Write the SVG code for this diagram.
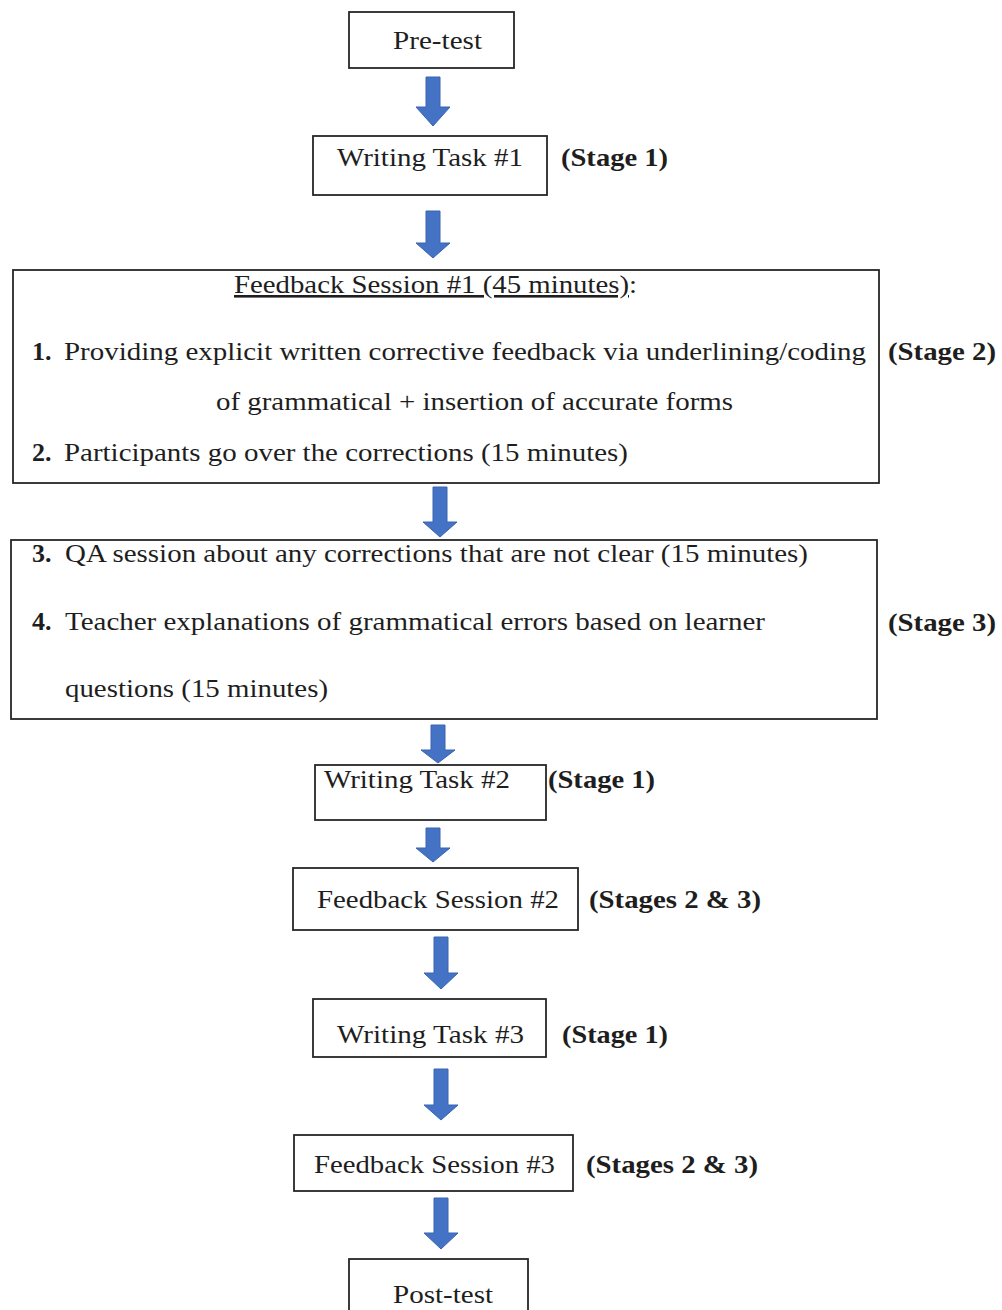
<svg xmlns="http://www.w3.org/2000/svg" width="1002" height="1310" viewBox="0 0 1002 1310">
<defs>
<style>
.box{fill:#fff;stroke:#262626;stroke-width:1.8}
.t{font-family:"Liberation Serif","Times New Roman",serif;font-size:26px;fill:#1e1e1e}
.b{font-weight:bold}
.arr{fill:#4472C4;stroke:#3a64b0;stroke-width:1}
.u{text-decoration:underline}
</style>
</defs>
<rect width="1002" height="1310" fill="#fff"/>
<g id="connectors">
<path class="arr" d="M426,77 H440 V107 H450 L433,126 L416,107 H426 Z"/>
<path class="arr" d="M426,211 H440 V243 H450 L433,258 L416,243 H426 Z"/>
<path class="arr" d="M433,487 H447 V522 H457 L440,537 L423,522 H433 Z"/>
<path class="arr" d="M431,725 H445 V750 H455 L438,763 L421,750 H431 Z"/>
<path class="arr" d="M426,828 H440 V848 H450 L433,862 L416,848 H426 Z"/>
<path class="arr" d="M434,937 H448 V973 H458 L441,989 L424,973 H434 Z"/>
<path class="arr" d="M434,1069 H448 V1105 H458 L441,1120 L424,1105 H434 Z"/>
<path class="arr" d="M434,1198 H448 V1233 H458 L441,1249 L424,1233 H434 Z"/>
</g>
<g id="pretest">
<rect class="box" x="349" y="12" width="165" height="56"/>
<text class="t" x="393" y="49" textLength="89" lengthAdjust="spacingAndGlyphs">Pre-test</text>
</g>
<g id="writing1">
<rect class="box" x="313" y="136" width="234" height="59"/>
<text class="t" x="337" y="166" textLength="186" lengthAdjust="spacingAndGlyphs">Writing Task #1</text>
<text class="t b" x="561" y="166" textLength="107" lengthAdjust="spacingAndGlyphs">(Stage 1)</text>
</g>
<g id="feedback1">
<rect class="box" x="13" y="270" width="866" height="213"/>
<text class="t" x="234" y="293" textLength="403" lengthAdjust="spacingAndGlyphs"><tspan class="u">Feedback Session #1 (45 minutes)</tspan>:</text>
<text class="t b" x="32" y="360">1.</text>
<text class="t" x="64" y="360" textLength="802" lengthAdjust="spacingAndGlyphs">Providing explicit written corrective feedback via underlining/coding</text>
<text class="t" x="216" y="410" textLength="517" lengthAdjust="spacingAndGlyphs">of grammatical + insertion of accurate forms</text>
<text class="t b" x="32" y="461">2.</text>
<text class="t" x="64" y="461" textLength="564" lengthAdjust="spacingAndGlyphs">Participants go over the corrections (15 minutes)</text>
<text class="t b" x="888" y="360" textLength="108" lengthAdjust="spacingAndGlyphs">(Stage 2)</text>
</g>
<g id="feedback1b">
<rect class="box" x="11" y="540" width="866" height="179"/>
<text class="t b" x="32" y="562">3.</text>
<text class="t" x="65" y="562" textLength="743" lengthAdjust="spacingAndGlyphs">QA session about any corrections that are not clear (15 minutes)</text>
<text class="t b" x="32" y="630">4.</text>
<text class="t" x="65" y="630" textLength="700" lengthAdjust="spacingAndGlyphs">Teacher explanations of grammatical errors based on learner</text>
<text class="t" x="65" y="697" textLength="263" lengthAdjust="spacingAndGlyphs">questions (15 minutes)</text>
<text class="t b" x="888" y="631" textLength="108" lengthAdjust="spacingAndGlyphs">(Stage 3)</text>
</g>
<g id="writing2">
<rect class="box" x="315" y="765" width="231" height="55"/>
<text class="t" x="324" y="788" textLength="186" lengthAdjust="spacingAndGlyphs">Writing Task #2</text>
<text class="t b" x="548" y="788" textLength="107" lengthAdjust="spacingAndGlyphs">(Stage 1)</text>
</g>
<g id="feedback2">
<rect class="box" x="293" y="868" width="285" height="62"/>
<text class="t" x="317" y="908" textLength="242" lengthAdjust="spacingAndGlyphs">Feedback Session #2</text>
<text class="t b" x="589" y="908" textLength="172" lengthAdjust="spacingAndGlyphs">(Stages 2 &amp; 3)</text>
</g>
<g id="writing3">
<rect class="box" x="313" y="999" width="233" height="58"/>
<text class="t" x="337" y="1043" textLength="187" lengthAdjust="spacingAndGlyphs">Writing Task #3</text>
<text class="t b" x="562" y="1043" textLength="106" lengthAdjust="spacingAndGlyphs">(Stage 1)</text>
</g>
<g id="feedback3">
<rect class="box" x="294" y="1135" width="279" height="56"/>
<text class="t" x="314" y="1173" textLength="241" lengthAdjust="spacingAndGlyphs">Feedback Session #3</text>
<text class="t b" x="586" y="1173" textLength="172" lengthAdjust="spacingAndGlyphs">(Stages 2 &amp; 3)</text>
</g>
<g id="posttest">
<rect class="box" x="349" y="1259" width="179" height="70"/>
<text class="t" x="393" y="1303" textLength="100" lengthAdjust="spacingAndGlyphs">Post-test</text>
</g>
</svg>
